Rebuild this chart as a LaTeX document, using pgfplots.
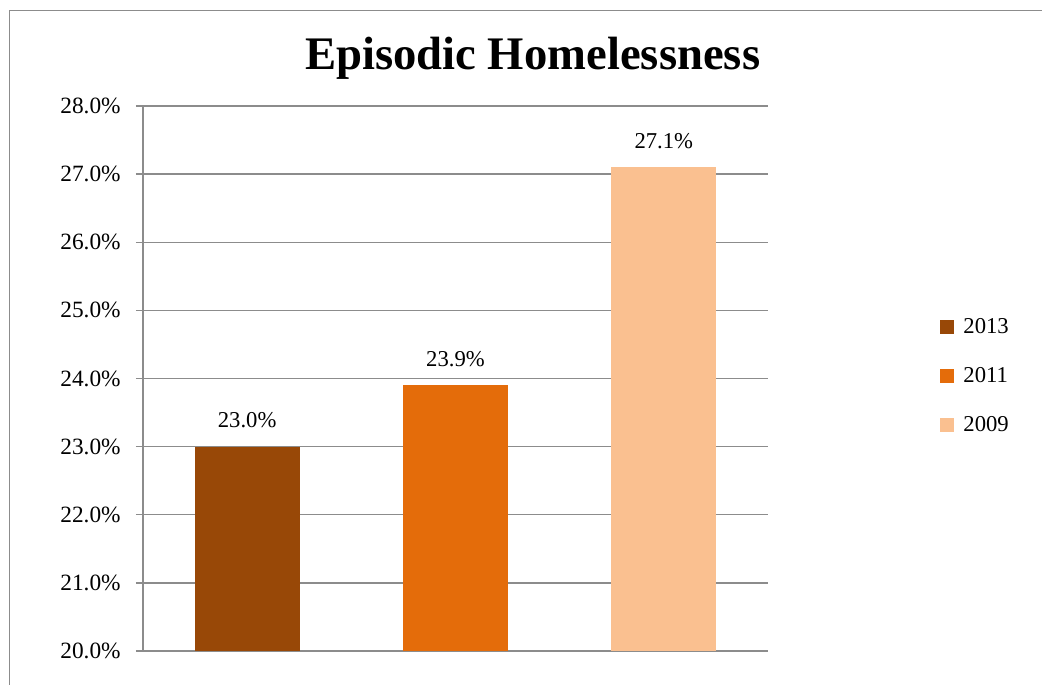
\documentclass[border=0pt]{standalone}
\usepackage{pgfplots}
\pgfplotsset{compat=1.18}
\usepackage{fontspec}
\setmainfont{Liberation Serif}
\definecolor{c2013}{HTML}{984807}
\definecolor{c2011}{HTML}{E46C0A}
\definecolor{c2009}{HTML}{FAC090}
\definecolor{gridgray}{HTML}{8C8C8C}
\begin{document}
\begin{tikzpicture}
\useasboundingbox (0pt,0pt) rectangle (781.5pt,513.75pt);
\draw[gridgray, line width=1.2pt] (7.2pt,0pt) -- (7.2pt,505.9pt) -- (781.5pt,505.9pt);
\node[anchor=base, font=\fontsize{35}{40}\selectfont\bfseries] at (399.5pt,461.25pt) {Episodic Homelessness};
\begin{axis}[
  at={(107.25pt,25.5pt)}, anchor=south west,
  scale only axis, width=468.75pt, height=408.75pt,
  xmin=-0.5, xmax=2.5, ymin=20, ymax=28,
  ytick={20,21,...,28},
  xtick=\empty,
  axis x line*=bottom, axis y line*=left,
  axis line style={gridgray, line width=1pt},
  ymajorgrids, grid style={gridgray, line width=1pt},
  tick align=outside, major tick length=5.25pt,
  ytick style={gridgray, line width=1pt},
  /pgf/number format/assume math mode=true,
  yticklabel={\pgfmathprintnumber[fixed,fixed zerofill,precision=1]{\tick}\%},
  tick label style={font=\fontsize{17.5}{20}\selectfont},
  yticklabel style={xshift=-8pt},
  ybar, bar width=78.75pt, bar shift=0pt,
  nodes near coords={\pgfmathprintnumber[fixed,fixed zerofill,precision=1]{\pgfplotspointmeta}\%},
  every node near coord/.append style={font=\fontsize{17}{20}\selectfont, anchor=base, yshift=14pt, inner sep=0pt, text=black},
  clip=false,
  legend style={at={(1.275,0.615)}, anchor=north west, draw=none, fill=none,
    font=\fontsize{17}{20}\selectfont, row sep=20pt, inner sep=0pt,
    /tikz/every odd column/.append style={column sep=5pt}},
  legend cell align=left,
  legend image code/.code={\fill[#1] (0pt,-5.25pt) rectangle (10.5pt,5.25pt);},
]
\addplot[fill=c2013, draw=none] coordinates {(0,23.0)};
\addlegendentry{2013}
\addplot[fill=c2011, draw=none] coordinates {(1,23.9)};
\addlegendentry{2011}
\addplot[fill=c2009, draw=none] coordinates {(2,27.1)};
\addlegendentry{2009}
\end{axis}
\end{tikzpicture}
\end{document}
